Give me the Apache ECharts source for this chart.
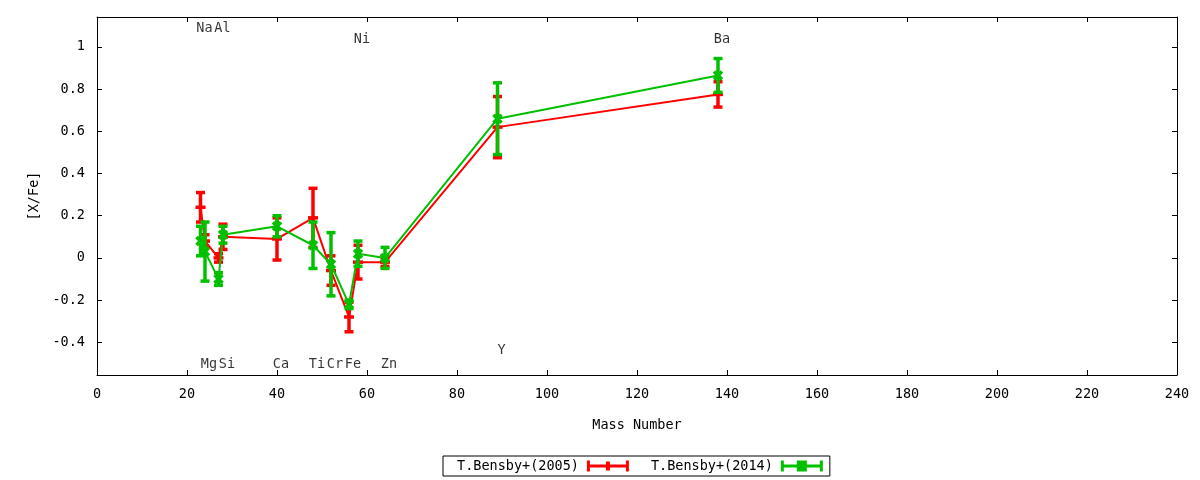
<!DOCTYPE html>
<html lang="en">
<head>
<meta charset="UTF-8">
<title>[X/Fe] vs Mass Number</title>
<script src="https://cdn.jsdelivr.net/npm/echarts@6/dist/echarts.min.js"></script>
<style>
  body { margin: 0; background: #fff; }
  #chart { width: 1200px; height: 480px; }
</style>
</head>
<body>
<div id="chart"></div>
<script>
// elements, mass numbers and where their name sits
var elemNames = ['Na', 'Mg', 'Al', 'Si', 'Ca', 'Ti', 'Cr', 'Fe', 'Ni', 'Zn', 'Y', 'Ba'];
var massNums = [23, 24, 27, 28, 40, 48, 52, 56, 58, 64, 89, 138];
var labelY = [1.095, -0.497, 1.095, -0.497, -0.497, -0.497, -0.497, -0.497, 1.047, -0.497, -0.43, 1.047];

// T.Bensby+(2005)
var bensby05 = [0.24, 0.08, 0.00, 0.10, 0.09, 0.19, -0.06, -0.28, -0.02, -0.02, 0.62, 0.775];
var bensby05Err = [0.07, 0.03, 0.02, 0.06, 0.10, 0.14, 0.07, 0.07, 0.08, 0.02, 0.145, 0.06];

// T.Bensby+(2014)
var bensby14 = [0.08, 0.03, -0.10, 0.11, 0.15, 0.06, -0.03, -0.22, 0.02, 0.00, 0.66, 0.865];
var bensby14Err = [0.07, 0.14, 0.03, 0.04, 0.05, 0.11, 0.15, 0.02, 0.06, 0.05, 0.17, 0.08];

var yTicks = [-0.4, -0.2, 0, 0.2, 0.4, 0.6, 0.8, 1];

var FONT = 'DejaVu Sans Mono';
var RED = '#ff0000';
var GREEN = '#00c000';
var name05 = 'T.Bensby+(2005)';
var name14 = 'T.Bensby+(2014)';

function lineData(vals) {
  return massNums.map(function (m, i) { return [m, vals[i]]; });
}
function errData(vals, errs) {
  return massNums.map(function (m, i) { return [m, vals[i] - errs[i], vals[i] + errs[i], vals[i]]; });
}

// draws bar + caps + point marker
function errorItem(color, cross) {
  return function (params, api) {
    var x = api.value(0);
    var bot = api.coord([x, api.value(1)]);
    var top = api.coord([x, api.value(2)]);
    var mid = api.coord([x, api.value(3)]);
    var st = { stroke: color, lineWidth: 3.5 };
    var cw = 4.5;
    var kids = [
      { type: 'line', shape: { x1: top[0], y1: top[1], x2: bot[0], y2: bot[1] }, style: st },
      { type: 'line', shape: { x1: top[0] - cw, y1: top[1], x2: top[0] + cw, y2: top[1] }, style: st },
      { type: 'line', shape: { x1: bot[0] - cw, y1: bot[1], x2: bot[0] + cw, y2: bot[1] }, style: st }
    ];
    if (cross) {
      kids.push({ type: 'line', shape: { x1: mid[0] - 4, y1: mid[1] - 4, x2: mid[0] + 4, y2: mid[1] + 4 }, style: st });
      kids.push({ type: 'line', shape: { x1: mid[0] - 4, y1: mid[1] + 4, x2: mid[0] + 4, y2: mid[1] - 4 }, style: st });
    } else {
      kids.push({ type: 'line', shape: { x1: mid[0] - 5, y1: mid[1], x2: mid[0] + 5, y2: mid[1] }, style: st });
    }
    return { type: 'group', children: kids };
  };
}

var axisCommon = {
  axisLine: { show: true, onZero: false, lineStyle: { color: '#000', width: 1 } },
  axisTick: { show: true, inside: true, length: 5, lineStyle: { color: '#000' } },
  splitLine: { show: false }
};

var chart = echarts.init(document.getElementById('chart'));
var option = {
  animation: false,
  backgroundColor: '#fff',
  textStyle: { fontFamily: FONT },
  grid: { left: 97, right: 23, top: 17, bottom: 105 },
  legend: {
    data: [
      { name: name05, icon: 'path://M0,4H42V7H0Z M0,0H3V11H0Z M39,0H42V11H39Z M19,1H23V10H19Z' },
      { name: name14, icon: 'path://M0,4H42V7H0Z M0,0H3V11H0Z M39,0H42V11H39Z M16,0H26V11H16Z' }
    ],
    left: 443, top: 456,
    align: 'right',
    itemWidth: 42, itemHeight: 11, itemGap: 22,
    padding: [3, 7, 3, 14],
    borderColor: '#000', borderWidth: 1, borderRadius: 0,
    textStyle: { fontFamily: FONT, fontSize: 13.5, color: '#000', padding: [0, 3, 0, 0] }
  },
  xAxis: [
    Object.assign({}, axisCommon, {
      type: 'value', min: 0, max: 240, interval: 20, position: 'bottom',
      axisLabel: { color: '#000', fontFamily: FONT, fontSize: 13.5, margin: 12 },
      name: 'Mass Number', nameLocation: 'middle', nameGap: 43,
      nameTextStyle: { color: '#000', fontFamily: FONT, fontSize: 13.5 }
    }),
    Object.assign({}, axisCommon, {
      type: 'value', min: 0, max: 240, interval: 20, position: 'top',
      axisLabel: { show: false }
    })
  ],
  yAxis: [
    Object.assign({}, axisCommon, {
      type: 'value', min: -0.555, max: 1.142, position: 'left',
      axisTick: { show: true, inside: true, length: 5, lineStyle: { color: '#000' }, customValues: yTicks },
      axisLabel: { color: '#000', fontFamily: FONT, fontSize: 13.5, margin: 12, customValues: yTicks,
        formatter: function (v) { return String(v); } },
      name: '[X/Fe]', nameLocation: 'middle', nameGap: 55, nameRotate: 90,
      nameTextStyle: { color: '#000', fontFamily: FONT, fontSize: 13.5 }
    }),
    Object.assign({}, axisCommon, {
      type: 'value', min: -0.555, max: 1.142, position: 'right',
      axisTick: { show: true, inside: true, length: 5, lineStyle: { color: '#000' }, customValues: yTicks },
      axisLabel: { show: false }
    })
  ],
  series: [
    {
      name: name05, type: 'line', data: lineData(bensby05), color: RED,
      symbol: 'none', lineStyle: { color: RED, width: 2 }, z: 2
    },
    {
      name: name05, type: 'custom', data: errData(bensby05, bensby05Err), color: RED,
      renderItem: errorItem(RED, false), encode: { x: 0, y: [1, 2, 3] }, z: 3
    },
    {
      name: name14, type: 'line', data: lineData(bensby14), color: GREEN,
      symbol: 'none', lineStyle: { color: GREEN, width: 2 }, z: 4
    },
    {
      name: name14, type: 'custom', data: errData(bensby14, bensby14Err), color: GREEN,
      renderItem: errorItem(GREEN, true), encode: { x: 0, y: [1, 2, 3] }, z: 5
    },
    {
      name: 'elements', type: 'scatter', silent: true, z: 6,
      data: massNums.map(function (m, i) { return [m, labelY[i], elemNames[i]]; }),
      symbolSize: 1, itemStyle: { color: 'rgba(0,0,0,0)' },
      label: {
        show: true, position: 'inside', offset: [4, 2],
        formatter: function (p) { return p.value[2]; },
        color: '#000', fontFamily: FONT, fontSize: 13.5
      }
    }
  ]
};
chart.setOption(option);
</script>
</body>
</html>
